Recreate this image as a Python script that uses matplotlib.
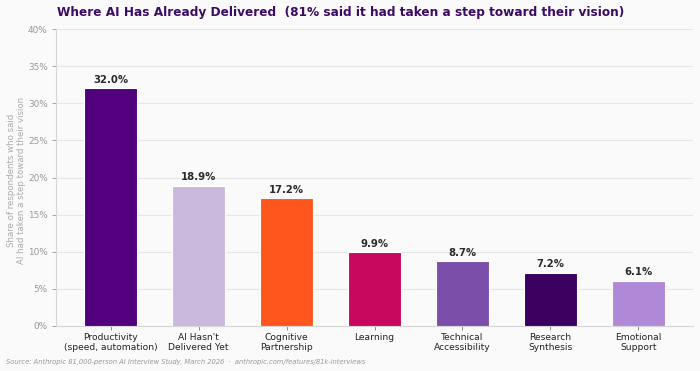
import matplotlib
matplotlib.use("Agg")
import matplotlib.pyplot as plt
from matplotlib.ticker import FuncFormatter, MultipleLocator

categories = ["Productivity\n(speed, automation)", "AI Hasn't\nDelivered Yet", "Cognitive\nPartnership",
              "Learning", "Technical\nAccessibility", "Research\nSynthesis", "Emotional\nSupport"]
values = [32.0, 18.9, 17.2, 9.9, 8.7, 7.2, 6.1]
colors = ["#53007E", "#CBB9DD", "#FF561D", "#C8075F", "#7B4FA9", "#3C0060", "#B088D8"]

bg = "#FAFAFA"
fig = plt.figure(figsize=(7.0, 3.71), dpi=100, facecolor=bg)
ax = fig.add_axes([0.08, 0.1213, 0.91, 0.8005])
ax.set_facecolor(bg)

x = list(range(len(categories)))
ax.bar(x, values, width=0.6, color=colors, edgecolor="white", linewidth=0.8, zorder=3)
for xi, v in zip(x, values):
    ax.text(xi, v + 0.5, f"{v:.1f}%", ha="center", va="bottom", fontsize=7.3,
            fontweight="bold", color="#2a2a2a", zorder=4)

ax.set_xlim(-0.62, 6.62)
ax.set_ylim(0, 40)
ax.yaxis.set_major_locator(MultipleLocator(5))
ax.yaxis.set_major_formatter(FuncFormatter(lambda v, p: f"{v:.0f}%"))
ax.set_xticks(x)
ax.set_xticklabels(categories, fontsize=6.6, color="#222222", linespacing=1.15)
ax.tick_params(axis="y", labelsize=6.4, colors="#999999", length=3, width=0.6, pad=3)
ax.tick_params(axis="x", length=3, width=0.6, colors="#777777", labelcolor="#222222", pad=2)
ax.grid(axis="y", color="#E6E6E6", linewidth=0.8, zorder=0)
for s in ["top", "right"]:
    ax.spines[s].set_visible(False)
for s in ["left", "bottom"]:
    ax.spines[s].set_color("#D5D5D5")
    ax.spines[s].set_linewidth(0.8)

ax.set_ylabel("Share of respondents who said\nAI had taken a step toward their vision",
              fontsize=6.2, color="#AAAAAA")
ax.yaxis.set_label_coords(-0.047, 0.49)

fig.text(0.081, 0.967, "Where AI Has Already Delivered  (81% said it had taken a step toward their vision)",
         fontsize=8.7, fontweight="bold", color="#3D0A66", ha="left", va="center")
fig.text(0.008, 0.025,
         "Source: Anthropic 81,000-person AI Interview Study, March 2026  \u00b7  anthropic.com/features/81k-interviews",
         fontsize=4.9, style="italic", color="#999999", ha="left", va="center")

fig.savefig("out.png", dpi=100, facecolor=bg)
